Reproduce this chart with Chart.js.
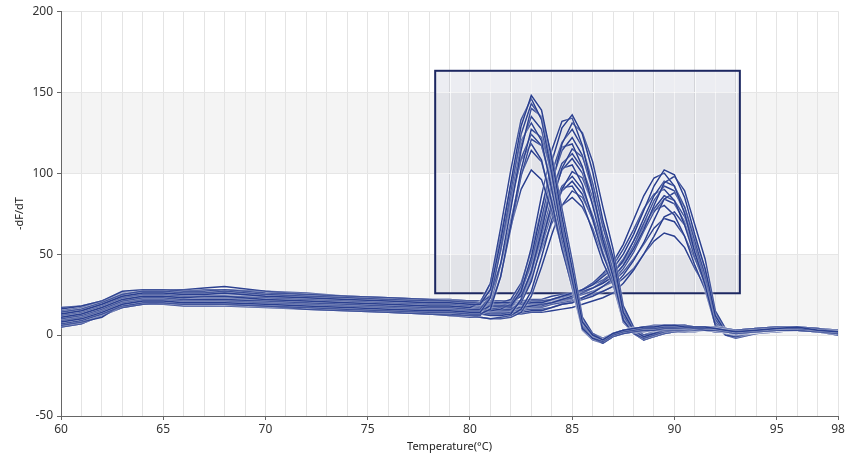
<!DOCTYPE html>
<html>
<head>
<meta charset="utf-8">
<script src="https://cdn.jsdelivr.net/npm/chart.js@4"></script>
<style>
  html, body { margin: 0; padding: 0; background: #ffffff; }
  #wrap { width: 850px; height: 463px; position: relative; }
</style>
</head>
<body>
<div id="wrap"><canvas id="c" width="850" height="463"></canvas></div>
<script>
// Temperature grid (°C)
const temps = [60,61,62,63,64,65,66,67,68,70,72,74,76,78,79,80,80.5,81,81.5,82,82.5,83,83.5,84,84.5,85,85.5,86,86.5,87,87.5,88,88.5,89,89.5,90,90.5,91,91.5,92,92.5,93,94,95,96,97,98];

// Group A curves (peak ~83 °C)
const groupA = [
  [13,15,19,24,26,26,25,25,26,24,23,22,21,20,20,19, 19,28,58,94,129,148,139,109,73,41, 8,0,-3,1,3,4,5,5,6,6,5,5,5,4,3,2,3,4,5,3,2],
  [11,13,17,22,24,24,23,24,24,22,21,20,19,18,18,17, 20,32,66,102,133,146,133,100,63,34, 4,-2,-4,0,2,3,4,4,5,5,5,4,4,4,3,2,3,4,4,3,2],
  [8,10,14,19,21,21,20,20,20,19,18,17,16,15,15,14, 14,23,53,89,124,143,134,104,68,36, 5,-2,-5,-1,1,2,3,3,4,4,4,4,3,3,2,1,2,3,3,2,1],
  [14,16,20,25,27,27,26,26,27,25,24,23,22,21,21,20, 20,24,44,78,114,140,135,111,78,46, 11,1,-3,1,3,4,5,5,5,6,6,5,5,4,3,3,4,5,5,4,2],
  [10,12,16,21,23,23,22,22,22,21,20,19,18,17,17,16, 16,24,52,85,117,135,127,99,66,36, 6,-1,-4,0,2,3,4,4,4,5,5,4,4,3,3,2,3,4,4,3,1],
  [12,14,18,23,25,25,24,24,24,23,22,21,20,19,19,18, 20,32,61,93,120,131,120,90,59,33, 4,-1,-3,1,2,3,4,5,5,5,5,5,4,4,3,2,3,4,4,3,2],
  [7,9,13,18,20,20,19,19,19,18,17,16,15,14,14,13, 13,16,36,68,102,127,122,100,68,38, 9,-1,-5,-1,1,2,3,3,4,4,4,3,3,3,2,1,2,3,3,2,1],
  [16,18,21,27,28,28,27,27,28,26,25,24,23,22,21,21, 21,28,52,81,109,124,117,93,64,39, 9,1,-2,1,3,4,5,6,6,6,6,5,5,5,4,3,4,5,5,4,3],
  [9,11,15,20,22,22,21,21,21,20,19,18,17,16,16,15, 15,18,36,66,98,121,117,96,66,38, 10,0,-4,0,2,3,3,4,4,4,4,4,3,3,2,2,2,3,4,3,1],
  [11,13,17,22,24,24,23,23,23,22,21,20,19,18,18,17, 19,29,55,84,108,118,108,82,53,30, 4,-2,-3,0,2,3,4,4,5,5,4,4,4,3,3,2,3,4,4,3,2],
  [6,8,11,19,21,21,20,20,19,18,16,15,14,13,13,12, 12,19,43,71,99,114,107,83,55,29, 3,-3,-5,-1,1,2,2,3,3,3,3,3,3,2,2,1,2,3,3,2,0],
  [13,15,19,24,26,26,25,26,26,24,23,22,21,20,20,19, 19,25,44,67,90,102,96,77,54,33, 7,0,-3,1,3,4,4,5,5,5,5,5,4,4,3,2,3,4,4,3,2]
];

// Group B curves (peak ~85 °C)
const groupB = [
  [12,14,18,23,25,25,24,24,24,23,22,21,20,19,19,18, 18,18,18, 18,27,48,77,107,128,136,124,101,71,48, 14,3,-1,1,3,4,5,5,5,4,4,3,4,5,5,4,2],
  [9,11,15,20,22,22,21,21,22,20,19,18,17,16,16,15, 15,15,16, 19,30,54,86,114,132,134,117,89,59,36, 9,1,-2,0,2,3,4,4,4,3,3,2,3,4,4,3,2],
  [14,16,20,25,27,27,26,26,26,25,24,23,22,21,21,20, 20,20,20, 20,24,39,64,93,118,131,125,107,79,53, 18,5,0,1,3,4,5,5,5,4,4,3,4,5,5,4,3],
  [11,13,17,22,24,24,23,23,23,22,21,20,19,18,18,17, 17,16,17, 17,26,45,72,100,119,127,116,94,67,45, 12,2,-2,0,2,3,4,4,4,3,3,2,3,4,4,3,2],
  [9,10,13,17,19,20,19,19,19,18,17,16,15,14,14,13, 13,12,12, 13,22,40,68,95,114,122,111,89,62,40, 10,1,-3,-1,1,2,3,3,3,2,2,1,2,3,3,2,1],
  [13,15,19,24,26,26,25,25,25,24,23,22,21,20,20,19, 19,19,20, 22,32,52,78,101,116,118,104,80,56,37, 9,2,-1,1,3,4,4,5,5,4,3,3,4,4,5,4,2],
  [10,12,16,21,23,23,22,22,23,21,20,19,18,17,17,16, 16,16,16, 16,20,33,56,81,103,115,110,93,68,46, 16,4,-1,0,2,3,4,4,4,3,3,2,3,4,4,3,1],
  [15,17,21,25,27,28,28,29,30,27,25,24,23,22,22,21, 21,21,21, 21,28,44,67,89,106,112,103,85,62,44, 14,3,0,2,3,4,5,5,5,4,4,3,4,5,5,4,3],
  [8,10,14,19,21,21,20,20,20,19,18,17,16,15,15,14, 14,13,13, 14,22,38,62,85,102,109,100,81,57,38, 10,1,-3,-1,1,2,3,3,3,3,2,2,2,3,3,2,1],
  [11,13,17,22,24,24,23,23,23,22,21,20,19,18,18,17, 17,17,18, 20,28,46,70,90,103,105,93,72,50,33, 8,1,-2,0,2,3,4,4,4,3,3,2,3,4,4,3,2],
  [6,8,12,17,19,19,18,18,18,17,16,15,14,13,12,12, 11,10,11, 12,16,27,48,71,90,101,97,81,59,39, 14,3,-2,-1,1,2,2,3,3,2,2,1,2,3,3,2,0],
  [13,15,19,24,26,26,25,25,26,24,23,22,21,20,20,19, 19,19,19, 19,25,39,59,78,92,98,90,74,55,39, 12,2,-1,1,3,4,4,5,5,4,3,3,4,4,4,3,2],
  [9,11,15,20,22,22,21,21,21,20,19,18,17,16,16,15, 15,15,15, 15,21,35,55,75,89,95,87,71,51,35, 10,1,-2,0,2,3,3,4,4,3,3,2,3,3,4,3,1],
  [12,14,18,23,25,25,24,24,24,23,22,21,20,19,19,18, 18,18,19, 20,28,42,62,79,91,92,82,64,45,31, 8,1,-1,1,2,3,4,4,4,4,3,3,3,4,4,3,2],
  [5,7,12,19,22,22,21,22,22,20,18,16,14,13,12,11, 11,10,10, 11,14,24,42,62,80,89,85,72,52,34, 13,2,-3,-1,1,2,2,2,3,2,2,1,2,2,3,2,0],
  [12,14,19,24,26,26,26,26,27,25,24,23,22,21,21,20, 20,20,20, 20,25,36,53,69,80,85,79,66,49,36, 12,3,0,2,3,4,5,5,5,4,4,3,4,5,5,4,3]
];

// Group C curves (peak ~89.5 °C)
const groupC = [
  [13,15,19,24,26,26,25,25,26,24,23,22,21,20,20,19, 19,19,19, 19,19,20,20, 22,24,26,28,31,36,41,50,62,77,92,102,99,85,62,41, 12,2,0,2,3,4,4,2],
  [10,12,16,21,23,23,22,22,22,21,20,19,18,17,17,16, 16,16,16, 16,17,18,19, 20,22,24,28,32,38,45,56,71,86,97,100,92,75,51,31, 6,0,-1,2,3,4,3,1],
  [14,16,20,25,27,27,26,26,26,25,24,23,22,21,21,20, 20,20,20, 20,20,21,21, 22,24,25,27,29,32,36,43,53,65,80,94,98,89,68,47, 15,4,0,2,4,5,4,2],
  [11,13,17,22,24,24,23,23,24,22,21,20,19,18,18,17, 17,17,17, 17,17,18,18, 20,22,23,26,29,33,38,46,58,72,86,95,92,79,58,37, 10,1,-1,2,3,4,3,1],
  [8,10,14,19,21,21,20,20,20,19,18,17,16,15,15,14, 14,14,14, 14,14,15,15, 17,19,20,23,26,30,35,43,55,69,83,92,89,76,55,34, 8,0,-2,1,2,3,2,0],
  [12,14,18,23,25,25,24,24,25,23,22,21,20,19,19,18, 18,18,18, 18,19,20,21, 22,23,25,28,32,37,43,53,65,78,87,90,83,68,48,31, 6,1,0,2,3,4,3,1],
  [9,11,15,20,22,22,21,21,21,20,19,18,17,16,16,15, 15,15,15, 15,15,16,16, 17,19,20,22,24,27,30,37,46,57,71,84,88,79,60,41, 14,3,-1,1,3,3,3,1],
  [17,18,21,26,27,27,27,28,28,27,26,24,23,22,22,21, 21,21,21, 21,21,22,22, 24,25,26,28,31,34,39,45,55,67,78,86,83,73,55,38, 12,3,1,3,4,5,4,2],
  [10,12,16,21,23,23,22,22,22,21,20,19,18,17,17,16, 16,16,16, 16,16,17,17, 19,20,21,23,26,30,34,41,51,64,76,84,81,70,51,34, 10,1,-1,2,3,4,3,1],
  [11,13,17,22,24,24,23,23,23,22,21,20,19,18,18,17, 17,17,17, 17,18,19,19, 20,21,23,26,29,33,39,47,58,69,77,80,74,61,43,28, 6,0,-1,2,3,4,3,1],
  [5,7,12,17,20,20,19,19,19,18,17,16,15,14,14,13, 13,13,13, 13,13,14,14, 15,16,17,19,21,23,26,32,40,50,61,73,76,68,52,35, 13,3,-1,1,2,3,2,0],
  [12,14,18,23,25,25,24,24,24,23,22,21,20,19,19,18, 18,18,18, 18,18,19,19, 20,21,22,23,25,27,30,35,41,50,58,63,61,54,41,30, 11,2,0,2,3,4,3,1],
  [13,15,19,24,26,26,25,25,25,24,23,22,21,20,20,19, 19,19,19, 19,19,20,20, 21,22,23,25,27,30,33,39,47,56,66,72,70,61,47,33, 11,2,0,2,3,4,3,1]
];

// Axis settings and tick labels
const xMin = 60, xMax = 98;
const yMin = -50, yMax = 200;
const xLabelTicks = [60,65,70,75,80,85,90,95,98];
const yTicks = [-50,0,50,100,150,200];
// Shaded bands [from, to] on the y axis
const yBands = [[0,50],[100,150]];
// Selection box: [xFrom, xTo, yFrom, yTo]
const selBox = [78.3, 93.2, 25.8, 163.2];

const LINE = '#2a3f8f';
const FONT = "'Segoe UI', 'Noto Sans', 'Open Sans', sans-serif";

const allCurves = [...groupA, ...groupB, ...groupC];
const datasets = allCurves.map((c, k) => ({
  label: 'Well ' + (k + 1),
  data: temps.map((t, i) => ({ x: t, y: c[i] })),
  borderColor: LINE,
  borderWidth: 1.5,
  pointRadius: 0,
  tension: 0,
  fill: false
}));

function boxPx(chart) {
  const { x, y } = chart.scales;
  return {
    x0: x.getPixelForValue(selBox[0]), x1: x.getPixelForValue(selBox[1]),
    y0: y.getPixelForValue(selBox[3]), y1: y.getPixelForValue(selBox[2])
  };
}

const bgPlugin = {
  id: 'bg',
  beforeDraw(chart) {
    const { ctx, chartArea: a, scales: { y } } = chart;
    ctx.save();
    ctx.fillStyle = '#f4f4f4';
    yBands.forEach(b => {
      const top = y.getPixelForValue(b[1]), bot = y.getPixelForValue(b[0]);
      ctx.fillRect(a.left, top, a.right - a.left, bot - top);
    });
    ctx.restore();
  },
  beforeDatasetsDraw(chart) {
    const { ctx, scales: { x, y } } = chart;
    const b = boxPx(chart);
    ctx.save();
    ctx.fillStyle = 'rgba(40,52,110,0.085)';
    ctx.fillRect(b.x0, b.y0, b.x1 - b.x0, b.y1 - b.y0);
    // lighter grid inside the box
    ctx.strokeStyle = 'rgba(255,255,255,0.7)';
    ctx.lineWidth = 1;
    x.ticks.forEach(t => {
      if (t.value > selBox[0] && t.value < selBox[1]) {
        const px = Math.round(x.getPixelForValue(t.value)) + 0.5;
        ctx.beginPath(); ctx.moveTo(px, b.y0); ctx.lineTo(px, b.y1); ctx.stroke();
      }
    });
    y.ticks.forEach(t => {
      if (t.value > selBox[2] && t.value < selBox[3]) {
        const py = Math.round(y.getPixelForValue(t.value)) + 0.5;
        ctx.beginPath(); ctx.moveTo(b.x0, py); ctx.lineTo(b.x1, py); ctx.stroke();
      }
    });
    // box border (under the curves)
    ctx.strokeStyle = '#1c2761';
    ctx.lineWidth = 2;
    ctx.strokeRect(b.x0, b.y0, b.x1 - b.x0, b.y1 - b.y0);
    ctx.restore();
  },
  beforeDatasetDraw(chart) {
    const ctx = chart.ctx;
    ctx.save();
    ctx.shadowColor = 'rgba(255,255,255,0.7)';
    ctx.shadowBlur = 2;
  },
  afterDatasetDraw(chart) {
    chart.ctx.restore();
  }
};

new Chart(document.getElementById('c'), {
  type: 'line',
  data: { datasets },
  options: {
    responsive: false,
    animation: false,
    parsing: false,
    normalized: true,
    layout: { padding: { top: 9, right: 12, bottom: 0, left: 0 } },
    plugins: {
      legend: { display: false },
      tooltip: { enabled: false }
    },
    scales: {
      x: {
        type: 'linear',
        min: xMin, max: xMax,
        afterBuildTicks(scale) {
          const t = [];
          for (let v = xMin; v <= xMax; v++) t.push({ value: v });
          scale.ticks = t;
        },
        afterFit(scale) { scale.height = 47; },
        ticks: {
          autoSkip: false,
          maxRotation: 0,
          padding: 2,
          color: '#333',
          font: { family: FONT, size: 12 },
          callback: v => (xLabelTicks.includes(v) ? String(v) : '')
        },
        grid: {
          color: '#e4e4e4',
          lineWidth: 1,
          tickLength: 4,
          tickColor: ctx => (ctx.tick && xLabelTicks.includes(ctx.tick.value) ? '#666' : 'rgba(0,0,0,0)')
        },
        border: { color: '#666', width: 1 },
        title: {
          display: true,
          text: 'Temperature(°C)',
          color: '#222',
          font: { family: FONT, size: 11 },
          padding: { top: 0, bottom: 10 }
        }
      },
      y: {
        type: 'linear',
        min: yMin, max: yMax,
        afterBuildTicks(scale) { scale.ticks = yTicks.map(v => ({ value: v })); },
        afterFit(scale) { scale.width = 61; },
        ticks: {
          padding: 4,
          color: '#333',
          font: { family: FONT, size: 12 }
        },
        grid: {
          color: '#e6e6e6',
          lineWidth: 1,
          tickLength: 4,
          tickColor: '#666'
        },
        border: { color: '#666', width: 1 },
        title: {
          display: true,
          text: '-dF/dT',
          color: '#222',
          font: { family: FONT, size: 11 },
          padding: { top: 13, bottom: 4 }
        }
      }
    }
  },
  plugins: [bgPlugin]
});
</script>
</body>
</html>
